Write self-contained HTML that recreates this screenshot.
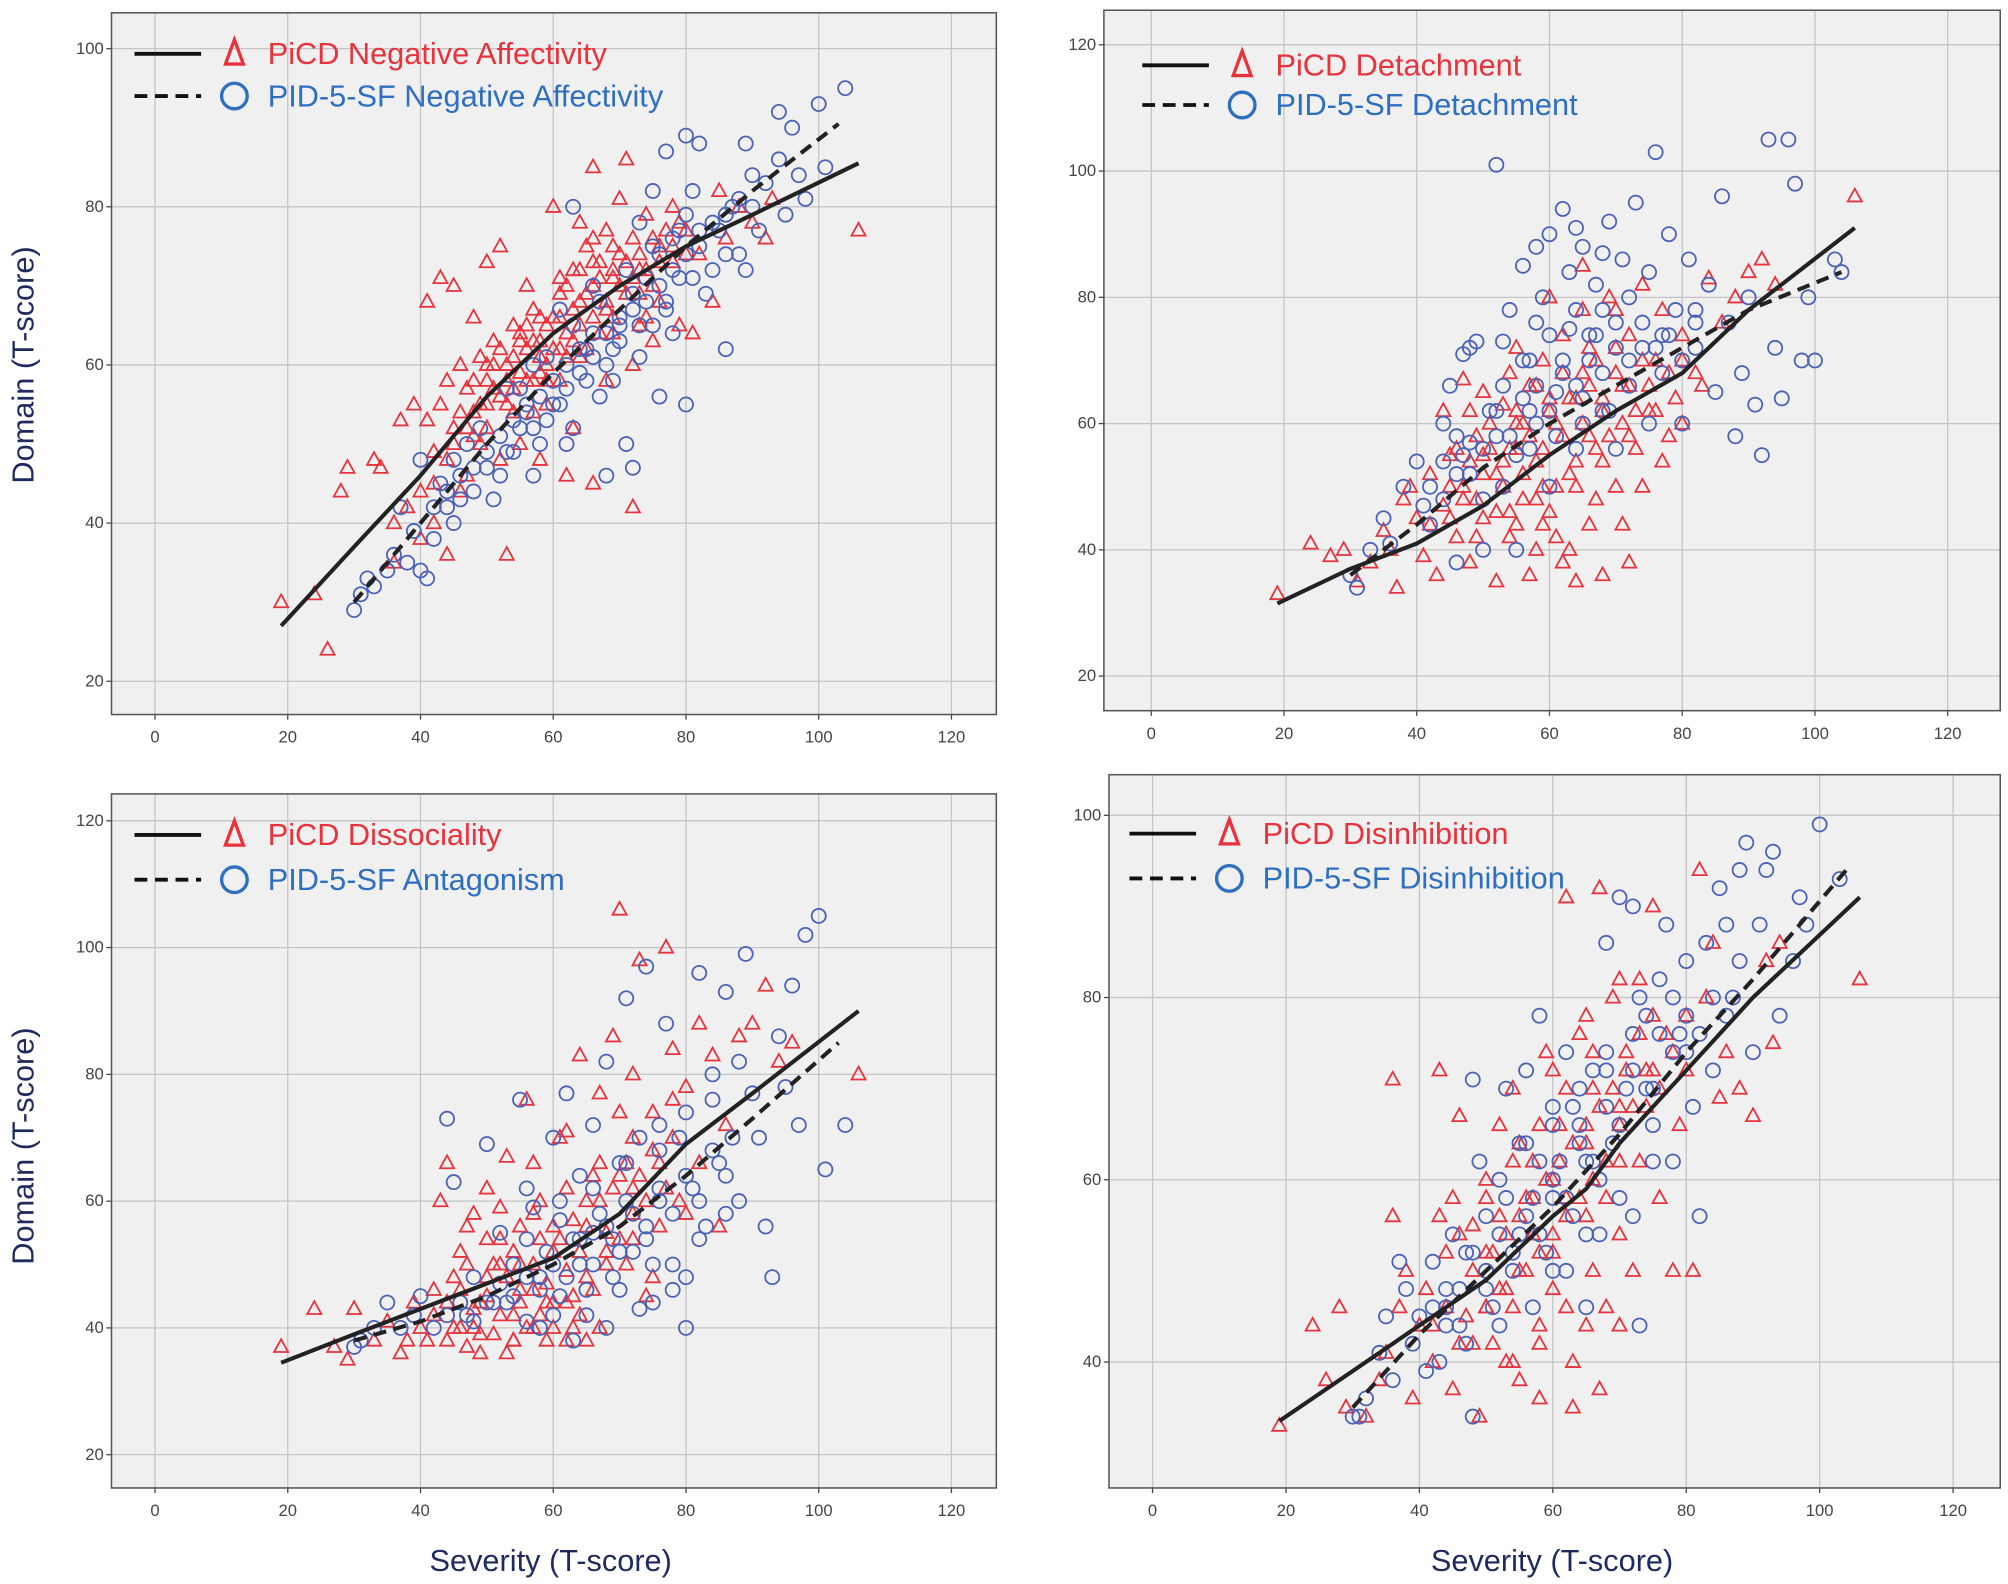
<!DOCTYPE html>
<html><head><meta charset="utf-8"><style>
html,body{margin:0;padding:0;background:#fff;}
svg{display:block;}
text{font-family:"Liberation Sans",sans-serif;}
</style></head><body>
<svg id="fig" width="2008" height="1584" viewBox="0 0 1568 1237" xmlns="http://www.w3.org/2000/svg">
<rect x="0" y="0" width="1568" height="1237" fill="#fff"/>
</svg>
<script>
// ---- Data ----
const xTicks = [0,20,40,60,80,100,120];
const yTicksNA = [20,40,60,80,100];
const yTicksDet = [20,40,60,80,100,120];
const yTicksDis = [20,40,60,80,100,120];
const yTicksDisinh = [40,60,80,100];

const naPicdLine = [[19,27],[30,37],[40,46],[50,56],[60,64],[70,70],[80,75],[90,79],[106,85.5]];
const naPidLine = [[30,30],[40,40],[50,50],[60,59],[70,67],[80,75],[90,82],[103,90.5]];
const detPicdLine = [[19,31.5],[30,37],[40,41],[50,47],[60,55],[70,62],[80,68],[90,78],[106,91]];
const detPidLine = [[30,36],[40,44],[50,53],[60,60],[70,66],[80,72],[90,78],[104,84]];
const disPicdLine = [[19,34.5],[30,39],[40,43],[50,47],[60,51],[70,58],[80,69],[90,77],[106,90]];
const disPidLine = [[30,38],[40,41],[50,45],[60,50],[70,56],[80,64],[90,73],[103,85]];
const dinPicdLine = [[19,33.5],[30,39],[40,44],[50,49],[60,56],[65,59],[70,64],[80,72],[90,80],[106,91]];
const dinPidLine = [[30,35],[40,43],[50,50],[60,57],[70,65],[80,74],[90,82],[104,94]];

const naPicd = [[19,30],[24,31],[26,24],[28,44],[29,47],[33,48],[34,47],[36,40],[38,42],[40,44],[41,53],[42,49],[43,55],[44,58],[45,52],[46,60],[47,57],[48,54],[49,61],[50,58],[50,52],[51,63],[52,56],[53,60],[54,65],[55,59],[56,62],[57,67],[58,63],[59,55],[60,66],[61,69],[62,64],[63,72],[64,68],[65,75],[66,70],[67,73],[68,77],[69,71],[70,74],[71,69],[72,76],[73,72],[74,79],[75,70],[76,75],[78,73],[80,77],[82,74],[84,68],[86,76],[88,80],[90,78],[92,76],[93,81],[106,77],[41,68],[43,71],[45,70],[50,73],[52,75],[60,80],[66,85],[71,86],[72,42],[62,46],[66,45],[53,36],[40,38],[44,36],[47,46],[55,50],[58,48],[63,52],[68,58],[72,60],[75,63],[79,65],[81,64],[37,53],[39,55],[48,66],[56,70],[64,78],[70,81],[78,80],[85,82],[46,44],[52,48],[57,54],[61,58],[65,62],[69,66],[73,65],[76,68],[36,35],[42,40],[49,50],[54,54],[59,60],[67,64],[74,66],[51,60],[55,63],[58,66],[62,70],[66,73],[69,75],[57,58],[61,62],[64,72]];
const naPicdCore = [[45,50],[46,54],[47,52],[48,58],[49,55],[50,60],[51,57],[52,62],[53,58],[54,61],[55,64],[56,58],[57,63],[58,61],[59,65],[60,62],[61,66],[62,61],[63,67],[64,65],[65,69],[66,66],[67,71],[68,68],[69,72],[70,70],[71,73],[72,71],[73,74],[74,72],[75,76],[76,73],[77,77],[78,75],[79,78],[80,74],[48,51],[53,55],[58,59],[63,63],[68,67],[73,69],[54,57],[59,58],[64,61],[69,64],[44,48],[42,45],[50,55],[56,65],[61,71],[66,76]];
const naPid = [[30,29],[31,31],[32,33],[33,32],[35,34],[36,36],[38,35],[40,34],[41,33],[40,48],[42,38],[44,42],[45,40],[46,46],[48,44],[50,47],[52,46],[54,49],[55,52],[56,54],[58,50],[60,55],[62,57],[63,52],[64,59],[65,62],[66,64],[68,60],[70,66],[71,50],[72,47],[70,63],[72,69],[74,71],[75,65],[76,74],[77,68],[78,76],[79,71],[80,79],[81,82],[82,75],[84,72],[85,77],[86,62],[87,80],[88,74],[89,88],[90,84],[92,83],[94,86],[95,79],[96,90],[98,81],[100,93],[101,85],[104,95],[94,92],[97,84],[89,72],[76,56],[80,55],[68,46],[63,80],[77,87],[80,89],[82,88],[75,82],[73,78],[66,70],[61,67],[57,60],[53,57],[49,52],[47,50],[43,45],[39,39],[37,42],[45,48],[51,43],[57,46],[59,53],[62,50],[67,56],[69,58],[73,61],[78,64],[83,69],[86,74],[91,77]];
const naPidCore = [[42,42],[44,44],[46,43],[48,47],[50,49],[52,51],[54,53],[56,55],[58,56],[60,58],[62,60],[64,62],[66,61],[68,64],[70,65],[72,67],[74,68],[76,70],[78,72],[80,74],[82,77],[84,78],[86,79],[88,81],[90,80],[53,49],[57,52],[61,55],[65,58],[69,62],[73,65],[77,67],[81,71],[55,57],[59,61],[63,65],[67,68],[71,72],[75,75],[79,77]];

const detPicd = [[19,33],[24,41],[27,39],[29,40],[31,35],[33,38],[35,43],[37,34],[38,48],[40,45],[41,39],[42,52],[43,36],[44,47],[45,55],[46,42],[47,50],[48,38],[49,58],[50,45],[51,60],[52,35],[52,52],[53,63],[54,42],[55,56],[56,48],[57,66],[58,40],[58,54],[59,70],[60,46],[61,60],[62,74],[62,38],[63,52],[64,64],[65,78],[66,44],[66,58],[67,70],[68,36],[68,62],[69,80],[70,50],[71,66],[72,74],[73,56],[74,82],[75,62],[76,70],[77,78],[78,58],[79,64],[80,74],[82,68],[84,83],[86,76],[88,80],[90,84],[92,86],[94,82],[106,96],[44,62],[47,67],[50,65],[55,72],[60,80],[65,85],[70,78],[36,40],[39,50],[42,44],[46,56],[49,48],[53,54],[56,60],[59,44],[63,40],[67,48],[71,44],[74,50],[77,54],[80,60],[83,66],[57,36],[61,42],[64,35],[72,38],[48,62],[54,68],[45,50],[50,55],[55,60],[60,64],[65,68]];
const detPicdCore = [[45,45],[47,48],[49,42],[50,52],[52,46],[53,50],[54,56],[55,44],[56,52],[57,58],[58,48],[59,56],[60,62],[61,50],[62,58],[63,64],[64,54],[65,60],[66,66],[67,56],[68,64],[69,58],[70,68],[71,60],[72,66],[73,62],[74,70],[75,66],[76,62],[78,68],[80,70],[48,54],[51,56],[55,62],[58,66],[62,68],[66,72],[70,72],[54,46],[59,50],[64,50],[68,54],[72,58]];
const detPid = [[30,36],[31,34],[33,40],[35,45],[36,41],[38,50],[40,54],[41,47],[42,44],[44,60],[45,66],[46,52],[47,71],[48,57],[49,73],[50,48],[51,62],[52,101],[53,66],[54,78],[55,55],[56,85],[57,70],[58,60],[59,80],[60,90],[61,65],[62,94],[63,75],[64,56],[65,88],[66,70],[67,82],[68,62],[69,92],[70,76],[71,86],[72,66],[73,95],[74,72],[75,84],[76,103],[77,68],[78,90],[79,78],[80,60],[81,86],[82,72],[84,82],[85,65],[86,96],[87,76],[88,58],[89,68],[90,80],[91,63],[92,55],[93,105],[94,72],[95,64],[96,105],[97,98],[98,70],[99,80],[100,70],[103,86],[104,84],[44,48],[47,55],[52,58],[57,62],[62,68],[67,74],[72,80],[77,74],[82,78],[60,50],[65,60],[70,56],[75,60],[48,72],[53,73],[58,76],[63,84],[68,87],[55,40],[50,40],[46,38],[58,88],[64,91]];
const detPidCore = [[42,50],[44,54],[46,58],[48,52],[50,56],[52,62],[54,58],[56,64],[58,66],[60,62],[62,70],[64,66],[66,74],[68,68],[70,72],[72,70],[74,76],[76,72],[78,74],[80,70],[82,76],[56,70],[60,74],[64,78],[68,78],[53,50],[57,56],[61,58],[65,64],[69,62]];

const disPicd = [[19,37],[24,43],[27,37],[29,35],[30,43],[33,38],[35,41],[37,36],[39,44],[41,38],[42,46],[43,60],[44,66],[45,40],[46,52],[47,37],[48,58],[49,44],[50,62],[51,39],[52,50],[53,67],[54,42],[55,56],[56,76],[57,46],[58,60],[59,38],[60,52],[61,70],[62,44],[63,57],[64,83],[65,48],[66,64],[67,40],[68,55],[69,86],[70,74],[70,106],[71,50],[72,62],[73,98],[74,45],[75,68],[76,56],[77,100],[78,76],[79,60],[80,78],[82,66],[84,83],[85,56],[86,72],[88,86],[90,88],[92,94],[94,82],[96,85],[106,80],[45,48],[50,48],[55,44],[60,40],[65,38],[48,40],[53,36],[58,42],[63,45],[68,50],[72,54],[75,48],[80,58],[40,40],[38,38],[50,54],[55,50],[60,56],[65,60],[70,64],[75,74],[47,56],[52,59],[57,66],[62,71],[67,77],[72,80],[78,84],[82,88],[44,38],[49,36],[54,38],[59,44],[64,42]];
const disPicdCore = [[42,42],[44,44],[46,46],[48,43],[50,45],[51,50],[52,42],[53,48],[54,52],[55,46],[56,40],[57,50],[58,54],[59,47],[60,44],[61,54],[62,49],[63,40],[64,52],[65,56],[66,46],[67,60],[68,52],[69,62],[70,54],[71,66],[72,58],[73,64],[74,60],[76,66],[77,62],[78,70],[46,40],[49,39],[54,38],[57,40],[62,38],[47,50],[52,54],[57,58],[62,62],[67,66],[72,70]];
const disPid = [[30,37],[31,38],[33,40],[35,44],[37,40],[39,42],[40,45],[42,40],[44,73],[45,63],[47,42],[48,48],[50,69],[51,44],[52,55],[54,50],[55,76],[56,41],[57,59],[58,48],[60,70],[61,45],[62,77],[63,54],[64,64],[65,42],[66,72],[67,58],[68,82],[69,48],[70,66],[71,92],[72,52],[73,70],[74,97],[75,44],[76,60],[77,88],[78,46],[79,70],[80,40],[81,62],[82,96],[83,56],[84,80],[85,66],[86,93],[87,70],[88,60],[89,99],[90,77],[91,70],[92,56],[93,48],[94,86],[95,78],[96,94],[97,72],[98,102],[100,105],[101,65],[104,72],[53,44],[58,40],[63,38],[68,40],[73,43],[78,50],[82,54],[86,58],[56,62],[61,60],[66,55],[71,60],[76,68],[80,74],[84,76],[88,82],[59,52],[64,50],[69,54],[74,56]];
const disPidCore = [[44,42],[46,44],[48,41],[50,44],[52,47],[54,45],[56,48],[58,46],[60,50],[62,48],[64,54],[66,50],[68,56],[70,52],[72,58],[74,54],[76,62],[78,58],[80,64],[82,60],[84,68],[86,64],[60,42],[65,46],[70,46],[75,50],[80,48],[56,54],[61,57],[66,62],[71,66],[76,72]];

const dinPicd = [[19,33],[24,44],[26,38],[28,46],[29,35],[32,34],[34,38],[35,41],[36,56],[36,71],[37,46],[38,50],[39,36],[40,44],[41,48],[42,40],[43,72],[43,56],[44,52],[45,37],[46,67],[47,45],[48,55],[49,34],[50,60],[51,42],[52,66],[53,48],[54,70],[55,38],[56,58],[57,62],[58,44],[59,74],[60,52],[61,66],[62,91],[63,40],[64,76],[65,56],[66,70],[67,92],[68,46],[69,80],[70,62],[71,74],[72,50],[73,82],[74,68],[75,90],[76,58],[77,76],[78,50],[79,66],[80,72],[81,50],[82,94],[83,80],[84,86],[85,69],[86,74],[88,70],[90,67],[92,84],[93,75],[94,86],[106,82],[45,58],[50,52],[55,50],[60,48],[65,44],[70,44],[48,42],[53,40],[58,36],[63,35],[67,37],[55,64],[60,60],[65,64],[70,68],[75,72],[80,78],[60,72],[65,78],[70,82],[50,46],[52,56],[57,54],[62,58],[68,58],[73,62]];
const dinPicdCore = [[42,44],[44,46],[46,42],[48,50],[50,46],[51,52],[52,48],[53,54],[54,46],[55,56],[56,50],[57,58],[58,52],[59,60],[60,54],[61,62],[62,56],[63,64],[64,58],[65,66],[66,60],[67,68],[68,62],[69,70],[70,66],[71,72],[72,68],[73,76],[74,72],[75,78],[76,70],[78,74],[46,54],[50,58],[54,62],[58,66],[62,70],[66,74],[54,40],[58,42],[62,46],[66,50],[70,54]];
const dinPid = [[30,34],[31,34],[32,36],[34,41],[35,45],[36,38],[37,51],[38,48],[39,42],[40,45],[41,39],[42,51],[43,40],[44,44],[45,54],[46,48],[47,52],[48,34],[48,71],[49,62],[50,56],[51,46],[52,60],[53,70],[54,50],[55,64],[56,72],[57,58],[58,78],[59,52],[60,68],[61,62],[62,74],[63,56],[64,66],[65,46],[66,72],[67,60],[68,86],[69,64],[70,91],[71,70],[72,90],[73,44],[74,78],[75,66],[76,82],[77,88],[78,62],[79,76],[80,84],[81,68],[82,56],[83,86],[84,72],[85,92],[86,88],[87,80],[88,94],[89,97],[90,74],[91,88],[92,94],[93,96],[94,78],[96,84],[97,91],[98,88],[100,99],[103,93],[44,46],[50,50],[55,54],[60,58],[65,62],[70,66],[75,70],[80,74],[53,58],[58,62],[63,68],[68,74],[73,80],[78,80],[47,42],[52,44],[57,46],[62,50],[67,54],[72,56]];
const dinPidCore = [[42,46],[44,48],[46,44],[48,52],[50,48],[52,54],[54,52],[56,56],[58,54],[60,60],[62,58],[64,64],[66,62],[68,68],[70,66],[72,72],[74,70],[76,76],[78,74],[80,78],[82,76],[84,80],[86,78],[88,84],[56,64],[60,66],[64,70],[68,72],[72,76],[60,50],[65,54],[70,58],[75,62]];

// ---- Rendering ----
const NS = "http://www.w3.org/2000/svg";
const svg = document.getElementById('fig');
const RED = "#e8323c", BLUE = "#4a62b8", LBLUE = "#2f6fc0";
function mk(tag, attrs, parent){ const e=document.createElementNS(NS,tag); for(const k in attrs) e.setAttribute(k,attrs[k]); (parent||svg).appendChild(e); return e; }

const panels = [
 {key:'na', fx0:87,fx1:778,fy0:10,fy1:558, x0:121,xs:5.183, yv:100,yp:38,ys:6.175, yt:yTicksNA,
  picd:naPicd.concat(naPicdCore),pid:naPid.concat(naPidCore),l1:naPicdLine,l2:naPidLine, lg:[105,42,75], t1:"PiCD Negative Affectivity", t2:"PID-5-SF Negative Affectivity"},
 {key:'det', fx0:862,fx1:1562,fy0:8,fy1:555, x0:899,xs:5.183, yv:120,yp:35,ys:4.93, yt:yTicksDet,
  picd:detPicd.concat(detPicdCore),pid:detPid.concat(detPidCore),l1:detPicdLine,l2:detPidLine, lg:[892,51,82], t1:"PiCD Detachment", t2:"PID-5-SF Detachment"},
 {key:'dis', fx0:87,fx1:778,fy0:620,fy1:1162, x0:121,xs:5.183, yv:120,yp:641,ys:4.95, yt:yTicksDis,
  picd:disPicd.concat(disPicdCore),pid:disPid.concat(disPidCore),l1:disPicdLine,l2:disPidLine, lg:[105,652,687], t1:"PiCD Dissociality", t2:"PID-5-SF Antagonism"},
 {key:'din', fx0:866,fx1:1562,fy0:605,fy1:1162, x0:900,xs:5.21, yv:40,yp:1063.6,ys:7.115, yt:yTicksDisinh,
  picd:dinPicd.concat(dinPicdCore),pid:dinPid.concat(dinPidCore),l1:dinPicdLine,l2:dinPidLine, lg:[882,651,686], t1:"PiCD Disinhibition", t2:"PID-5-SF Disinhibition"}
];

panels.forEach(p=>{
  const sx = v => p.x0 + v*p.xs;
  const sy = v => p.yp - (v - p.yv)*p.ys;
  const g = mk('g',{});
  
  
  const bg = mk('rect',{x:p.fx0,y:p.fy0,width:p.fx1-p.fx0,height:p.fy1-p.fy0,fill:'#f0f0f0'},g);
  
  
  xTicks.forEach(t=>{
    const x=sx(t);
    const gl = mk('line',{x1:x,x2:x,y1:p.fy0,y2:p.fy1,stroke:'#c4c4c4','stroke-width':1},g);
    
    
    mk('line',{x1:x,x2:x,y1:p.fy1,y2:p.fy1+4,stroke:'#444','stroke-width':1},g);
    const tl = mk('text',{x:x,y:p.fy1+22,'font-size':13,fill:'#444','text-anchor':'middle'},g);
    tl.textContent = t;
    
    
  });
  p.yt.forEach(t=>{
    const y=sy(t);
    const gl = mk('line',{x1:p.fx0,x2:p.fx1,y1:y,y2:y,stroke:'#c4c4c4','stroke-width':1},g);
    
    
    mk('line',{x1:p.fx0-4,x2:p.fx0,y1:y,y2:y,stroke:'#444','stroke-width':1},g);
    const tl = mk('text',{x:p.fx0-6,y:y+4,'font-size':13,fill:'#444','text-anchor':'end'},g);
    tl.textContent = t;
    
    
  });
  p.picd.forEach(d=>{
    const x=sx(d[0]), y=sy(d[1]);
    const tr = mk('polygon',{points:`${x},${y-6} ${x-5.5},${y+4} ${x+5.5},${y+4}`,fill:'none',stroke:RED,'stroke-width':1.4},g);
    
    
  });
  p.pid.forEach(d=>{
    const c = mk('circle',{cx:sx(d[0]),cy:sy(d[1]),r:5.5,fill:'none',stroke:BLUE,'stroke-width':1.4},g);
    
    
  });
  const path = arr => arr.map((d,i)=>(i?'L':'M')+sx(d[0]).toFixed(1)+','+sy(d[1]).toFixed(1)).join(' ');
  const ln1 = mk('path',{d:path(p.l1),fill:'none',stroke:'#222','stroke-width':3.2,'stroke-linejoin':'round'},g);
  
  
  const ln2 = mk('path',{d:path(p.l2),fill:'none',stroke:'#222','stroke-width':3.2,'stroke-dasharray':'10,6'},g);
  
  
  const fr = mk('rect',{x:p.fx0,y:p.fy0,width:p.fx1-p.fx0,height:p.fy1-p.fy0,fill:'none',stroke:'#555','stroke-width':1.2},g);
  
  
  const [lx,ly1,ly2] = p.lg;
  const lg = mk('g',{},g);
  
  
  mk('line',{x1:lx,x2:lx+52,y1:ly1,y2:ly1,stroke:'#111','stroke-width':3},lg);
  mk('line',{x1:lx,x2:lx+52,y1:ly2,y2:ly2,stroke:'#111','stroke-width':3,'stroke-dasharray':'10,6'},lg);
  const tx = lx+78;
  mk('polygon',{points:`${tx},${ly1-11} ${tx-7},${ly1+8} ${tx+7},${ly1+8}`,fill:'none',stroke:RED,'stroke-width':2.6},lg);
  mk('circle',{cx:tx,cy:ly2,r:10,fill:'none',stroke:LBLUE,'stroke-width':2.6},lg);
  const t1 = mk('text',{x:lx+104,y:ly1+8,'font-size':24,fill:RED,textLength:0},lg);
  t1.removeAttribute('textLength');
  t1.textContent = p.t1;
  
  
  const t2 = mk('text',{x:lx+104,y:ly2+8,'font-size':24,fill:LBLUE},lg);
  t2.textContent = p.t2;
  
  
});

[285,895].forEach(cy=>{
  const t = mk('text',{x:0,y:0,'font-size':24,fill:'#1f2a5e','text-anchor':'middle',transform:`translate(26,${cy}) rotate(-90)`});
  t.textContent = 'Domain (T-score)';
  
  
});
[430,1212].forEach(x=>{
  const t = mk('text',{x:x,y:1227,'font-size':24,fill:'#1f2a5e','text-anchor':'middle'});
  t.textContent = 'Severity (T-score)';
  
  
});
</script>
</body></html>
